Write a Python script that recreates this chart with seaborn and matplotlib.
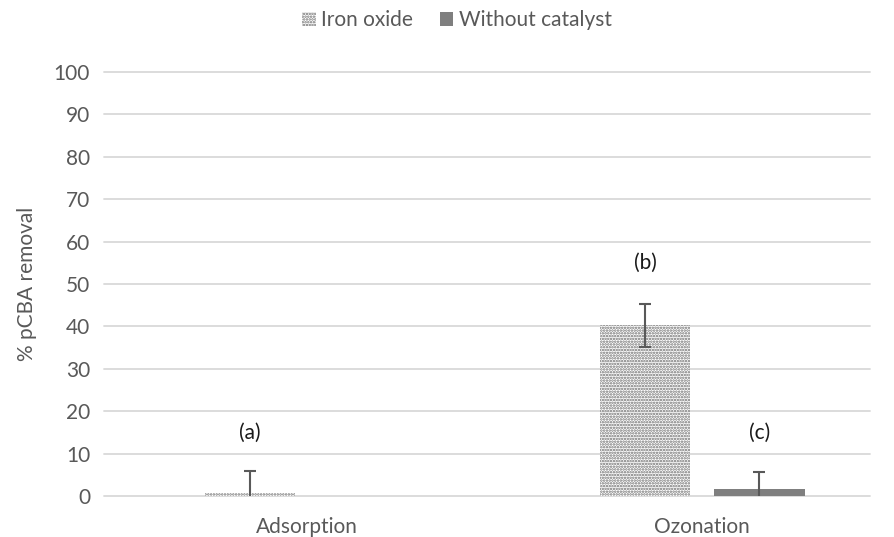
import numpy as np
import pandas as pd
import matplotlib.pyplot as plt
import matplotlib.patches as mpatches
import seaborn as sns

# values
processes = ["Adsorption", "Ozonation"]
catalysts = ["Iron oxide", "Without catalyst"]
iron_oxide = [0.8, 40.3]
without_catalyst = [0.0, 1.7]
iron_oxide_err = [5.1, 5.1]
without_catalyst_err = [0.0, 3.9]
letters = {("Iron oxide", "Adsorption"): ("(a)", 15),
           ("Iron oxide", "Ozonation"): ("(b)", 55),
           ("Without catalyst", "Ozonation"): ("(c)", 15)}

data = pd.DataFrame({
    "Process": processes * 2,
    "Catalyst": [catalysts[0]] * 2 + [catalysts[1]] * 2,
    "Removal": iron_oxide + without_catalyst,
})
errors = {catalysts[0]: iron_oxide_err, catalysts[1]: without_catalyst_err}

sns.set_style("white")
plt.rcParams["font.family"] = ["Lato", "DejaVu Sans"]
plt.rcParams["hatch.linewidth"] = 1.2
text_grey = "#595959"
dot_grey = "#6e6e6e"
solid_grey = "#7f7f7f"
fsize = 15

fig = plt.figure(figsize=(8.94, 5.37), dpi=100)
ax = fig.add_axes([104 / 894, 41 / 537, 766 / 894, 424 / 537])

sns.barplot(
    data=data, x="Process", y="Removal", hue="Catalyst",
    order=processes, hue_order=catalysts,
    palette=["white", solid_grey], width=0.58, gap=0.21,
    linewidth=0, legend=False, ax=ax,
)

# dotted fill for iron oxide bars
for bar in ax.containers[0]:
    bar.set_hatch("......")
    bar.set_edgecolor(dot_grey)
    bar.set_linewidth(0)

# error bars and letters on top of each bar
for cat, container in zip(catalysts, ax.containers):
    for proc, bar, err in zip(processes, container, errors[cat]):
        xc = bar.get_x() + bar.get_width() / 2
        if err > 0:
            ax.errorbar(xc, bar.get_height(), yerr=err, color=text_grey,
                        elinewidth=1.5, capsize=4, capthick=1.5, fmt="none")
        if (cat, proc) in letters:
            label, y = letters[(cat, proc)]
            ax.text(xc, y, label, ha="center", va="center",
                    fontsize=fsize, color="#1a1a1a")

ax.set_ylim(0, 100)
ax.set_xlim(-0.515, 1.425)
ax.set_yticks(np.arange(0, 101, 10))
ax.yaxis.grid(True, color="#d9d9d9", linewidth=1.3)
for line in ax.get_ygridlines():
    line.set_clip_on(False)
ax.set_axisbelow(True)
sns.despine(ax=ax, left=True, bottom=True)
ax.tick_params(axis="both", length=0, labelsize=fsize, colors=text_grey, pad=10)
ax.tick_params(axis="x", pad=15)
ax.set_xlabel("")
ax.set_ylabel("% pCBA removal", fontsize=fsize, color=text_grey, labelpad=12)

handles = [
    mpatches.Patch(facecolor="white", edgecolor=dot_grey, hatch="......",
                   linewidth=0, label=catalysts[0]),
    mpatches.Patch(facecolor=solid_grey, linewidth=0, label=catalysts[1]),
]
leg = fig.legend(handles=handles, loc="center", bbox_to_anchor=(0.511, 1 - 20 / 537),
                 ncol=2, frameon=False, fontsize=fsize, handlelength=0.65,
                 handleheight=0.65, handletextpad=0.25, columnspacing=1.3)
for t in leg.get_texts():
    t.set_color(text_grey)

fig.savefig("out.png", dpi=100)
